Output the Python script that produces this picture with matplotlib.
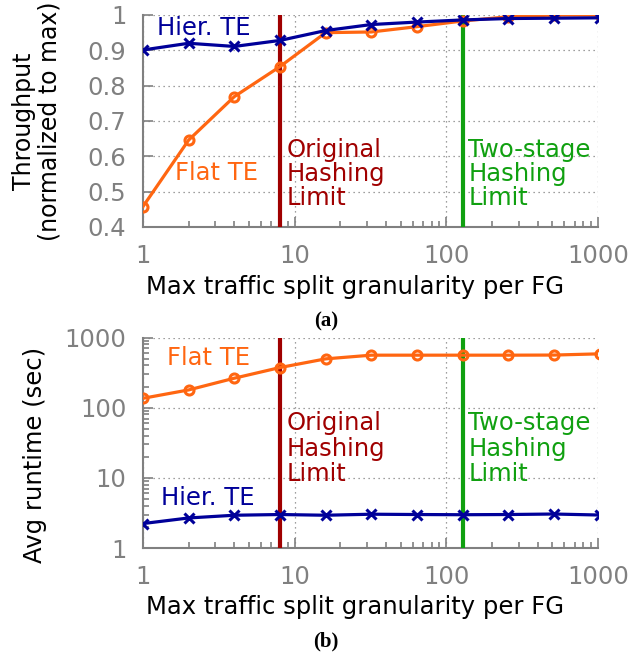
import matplotlib
matplotlib.use("Agg")
import matplotlib.pyplot as plt
from matplotlib.ticker import LogLocator, NullFormatter, FixedLocator

# ---- data ----
granularity = [1, 2, 4, 8, 16, 32, 64, 128, 256, 512, 1024]
thr_hier = [0.901, 0.920, 0.911, 0.928, 0.956, 0.973, 0.980, 0.986, 0.990, 0.991, 0.992]
thr_flat = [0.458, 0.646, 0.769, 0.854, 0.950, 0.952, 0.967, 0.983, 0.995, 1.000, 1.000]
rt_flat = [136, 179, 263, 373, 496, 560, 560, 560, 560, 562, 585]
rt_hier = [2.23, 2.68, 2.93, 3.0, 2.93, 3.03, 3.0, 2.98, 3.0, 3.05, 2.95]
orig_limit = 8
two_stage_limit = 128
thr_yticks = [0.4, 0.5, 0.6, 0.7, 0.8, 0.9, 1.0]
thr_yticklabels = ["0.4", "0.5", "0.6", "0.7", "0.8", "0.9", "1"]
xticks = [1, 10, 100, 1000]
xticklabels = ["1", "10", "100", "1000"]
rt_yticks = [1, 10, 100, 1000]
rt_yticklabels = ["1", "10", "100", "1000"]

ORANGE = "#ff6611"
BLUE = "#000099"
RED = "#a00000"
GREEN = "#10a010"
GRAY = "#808080"

plt.rcParams["font.family"] = ["DejaVu Sans"]
FS = 17.5

fig = plt.figure(figsize=(6.43, 6.56), dpi=100)
W, H = 643, 656
def ax_rect(l, t, r, b):
    return [l / W, 1 - b / H, (r - l) / W, (b - t) / H]

ax1 = fig.add_axes(ax_rect(143, 15, 598, 227))
ax2 = fig.add_axes(ax_rect(143, 337.5, 598, 548))

def style(ax):
    ax.set_xscale("log")
    ax.set_xlim(1, 1000)
    for s in ["top", "right"]:
        ax.spines[s].set_visible(False)
    for s in ["left", "bottom"]:
        ax.spines[s].set_color(GRAY)
        ax.spines[s].set_linewidth(1.5)
    ax.xaxis.set_major_locator(FixedLocator(xticks))
    ax.set_xticklabels(xticklabels)
    ax.xaxis.set_minor_locator(LogLocator(base=10, subs=range(2, 10)))
    ax.xaxis.set_minor_formatter(NullFormatter())
    ax.tick_params(axis="both", which="both", direction="in", colors=GRAY,
                   labelcolor=GRAY, labelsize=FS, width=1.2)
    ax.tick_params(axis="both", which="major", length=7, pad=12)
    ax.tick_params(axis="both", which="minor", length=4)
    ax.grid(True, which="major", linestyle=(0, (1, 3)), color=GRAY, linewidth=0.9)
    ax.set_xlabel("Max traffic split granularity per FG", fontsize=FS)
    ax.xaxis.set_label_coords(0.466, -0.225)
    ax.axvline(orig_limit, color=RED, linewidth=3, zorder=4)
    ax.axvline(two_stage_limit, color=GREEN, linewidth=3, zorder=4)

# ---- top panel ----
style(ax1)
ax1.set_ylim(0.4, 1.0)
ax1.yaxis.set_major_locator(FixedLocator(thr_yticks))
ax1.set_yticklabels(thr_yticklabels)
ax1.plot(granularity, thr_flat, color=ORANGE, linewidth=2.3, marker="o",
         markersize=6.5, markerfacecolor="none", markeredgewidth=2.2, zorder=5)
ax1.plot(granularity, thr_hier, color=BLUE, linewidth=2.3, marker="x",
         markersize=6.5, markeredgewidth=2.2, zorder=6)
ax1.set_ylabel("Throughput\n(normalized to max)", fontsize=17, linespacing=1.05)
ax1.yaxis.set_label_coords(-0.18, 0.5)
ax1.text(1.237, 0.963, "Hier. TE", color=BLUE, fontsize=FS, va="center", ha="left")
ax1.text(1.63, 0.553, "Flat TE", color=ORANGE, fontsize=FS, va="center", ha="left")
ax1.text(8.86, 0.55, "Original\nHashing\nLimit", color=RED, fontsize=FS,
         va="center", ha="left", linespacing=1.02)
ax1.text(139.6, 0.55, "Two-stage\nHashing\nLimit", color=GREEN, fontsize=FS,
         va="center", ha="left", linespacing=1.02)

# ---- bottom panel ----
style(ax2)
ax2.set_yscale("log")
ax2.set_ylim(1, 1000)
ax2.yaxis.set_major_locator(FixedLocator(rt_yticks))
ax2.set_yticklabels(rt_yticklabels)
ax2.yaxis.set_minor_locator(LogLocator(base=10, subs=range(2, 10)))
ax2.yaxis.set_minor_formatter(NullFormatter())
ax2.tick_params(axis="y", which="both", direction="in", colors=GRAY, labelcolor=GRAY)
ax2.plot(granularity, rt_flat, color=ORANGE, linewidth=2.3, marker="o",
         markersize=6.5, markerfacecolor="none", markeredgewidth=2.2, zorder=5)
ax2.plot(granularity, rt_hier, color=BLUE, linewidth=2.3, marker="x",
         markersize=6.5, markeredgewidth=2.2, zorder=6)
ax2.set_ylabel("Avg runtime (sec)", fontsize=FS)
ax2.yaxis.set_label_coords(-0.211, 0.44)
ax2.text(1.43, 508, "Flat TE", color=ORANGE, fontsize=FS, va="center", ha="left")
ax2.text(1.31, 5.08, "Hier. TE", color=BLUE, fontsize=FS, va="center", ha="left")
ax2.text(8.86, 26, "Original\nHashing\nLimit", color=RED, fontsize=FS,
         va="center", ha="left", linespacing=1.08)
ax2.text(139.6, 26, "Two-stage\nHashing\nLimit", color=GREEN, fontsize=FS,
         va="center", ha="left", linespacing=1.08)

fig.text(326 / W, 1 - 321 / H, "(a)", fontsize=15, fontweight="bold",
         family=["Liberation Serif", "DejaVu Serif"], ha="center", va="center")
fig.text(326 / W, 1 - 641 / H, "(b)", fontsize=15, fontweight="bold",
         family=["Liberation Serif", "DejaVu Serif"], ha="center", va="center")

fig.savefig("out.png", dpi=100)
